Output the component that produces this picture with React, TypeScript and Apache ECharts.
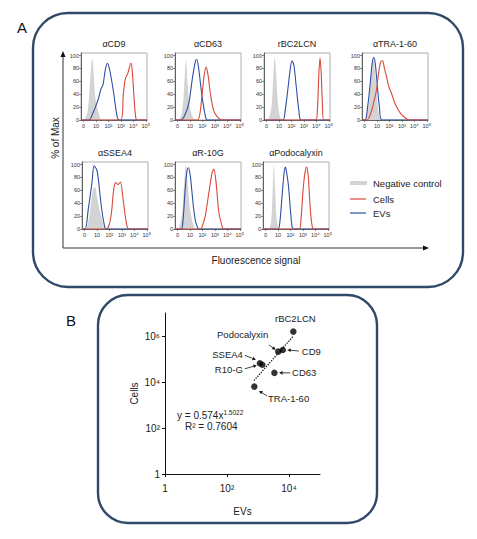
import React, { useEffect, useRef } from 'react';
import * as echarts from 'echarts';

// ---------- Panel A data (x in decades: 0 -> "0", 1 -> 10, 2 -> 10², ...) ----------
const markerTitles = ['αCD9', 'αCD63', 'rBC2LCN', 'αTRA-1-60', 'αSSEA4', 'αR-10G', 'αPodocalyxin'];
const decadeLabels = ['0', '10', '10²', '10³', '10⁴', '10⁵'];
const decadeTicks = [0, 1, 2, 3, 4, 5];
const pctTicks = [0, 20, 40, 60, 80, 100];
const legendLabels = ['Negative control', 'Cells', 'EVs'];

const cd9Neg = [[0.05, 0], [0.3, 10], [0.5, 50], [0.62, 85], [0.72, 95], [0.82, 70], [0.95, 35], [1.1, 20], [1.25, 8], [1.4, 0]];
const cd9EVs = [[-0.2, 0], [0.45, 0], [0.7, 8], [1.15, 30], [1.4, 48], [1.57, 55], [1.75, 78], [1.92, 88], [2.1, 78], [2.4, 45], [2.66, 10], [2.86, 0], [5.1, 0]];
const cd9Cells = [[-0.2, 0], [3.0, 0], [3.2, 40], [3.35, 63], [3.57, 73], [3.8, 88], [3.9, 80], [4.04, 40], [4.18, 6], [4.3, 0], [5.1, 0]];

const cd63Neg = [[0.1, 0], [0.35, 10], [0.55, 55], [0.68, 93], [0.8, 60], [0.95, 25], [1.15, 8], [1.35, 0]];
const cd63EVs = [[-0.2, 0], [0.3, 0], [0.6, 8], [0.9, 25], [1.2, 65], [1.45, 92], [1.55, 94], [1.7, 80], [1.95, 40], [2.2, 10], [2.4, 0], [5.1, 0]];
const cd63Cells = [[-0.2, 0], [1.6, 0], [1.8, 10], [2.0, 45], [2.15, 70], [2.3, 82], [2.45, 70], [2.65, 40], [2.9, 15], [3.2, 5], [3.6, 0], [5.1, 0]];

const rbcNeg = [[0.15, 0], [0.4, 20], [0.55, 70], [0.66, 97], [0.78, 70], [0.9, 30], [1.05, 8], [1.2, 0]];
const rbcEVs = [[-0.2, 0], [1.3, 0], [1.5, 15], [1.7, 45], [1.9, 78], [2.05, 92], [2.2, 85], [2.4, 50], [2.6, 15], [2.8, 0], [5.1, 0]];
const rbcCells = [[-0.2, 0], [3.95, 0], [4.1, 20], [4.2, 70], [4.3, 96], [4.4, 70], [4.5, 20], [4.6, 0], [5.1, 0]];

const traNeg = [[0.1, 0], [0.35, 25], [0.55, 80], [0.68, 95], [0.8, 85], [0.95, 50], [1.1, 15], [1.25, 0]];
const traEVs = [[-0.2, 0], [0.05, 0], [0.25, 20], [0.45, 55], [0.6, 85], [0.73, 97], [0.85, 90], [1.0, 60], [1.2, 20], [1.4, 0], [5.1, 0]];
const traCells = [[-0.2, 0], [0.2, 0], [0.5, 10], [0.75, 28], [0.95, 45], [1.15, 75], [1.3, 90], [1.45, 92], [1.6, 80], [1.76, 68], [1.95, 52], [2.16, 42], [2.4, 28], [2.7, 16], [3.0, 8], [3.3, 3], [3.6, 0], [5.1, 0]];

const sseaNeg = [[0.15, 0], [0.35, 15], [0.55, 45], [0.7, 62], [0.85, 65], [1.0, 50], [1.2, 30], [1.4, 15], [1.6, 0]];
const sseaEVs = [[-0.2, 0], [0.05, 0], [0.3, 30], [0.6, 72], [0.77, 98], [0.98, 92], [1.1, 79], [1.38, 31], [1.64, 2], [1.75, 0], [5.1, 0]];
const sseaCells = [[-0.2, 0], [1.77, 0], [2.0, 8], [2.17, 26], [2.35, 62], [2.5, 72], [2.7, 69], [2.88, 73], [3.1, 46], [3.36, 10], [3.57, 0], [5.1, 0]];

const r10gNeg = [[0.1, 0], [0.35, 20], [0.55, 75], [0.68, 100], [0.8, 75], [0.95, 40], [1.15, 15], [1.4, 0]];
const r10gEVs = [[-0.2, 0], [0.3, 0], [0.45, 15], [0.62, 62], [0.78, 92], [0.88, 95], [1.03, 82], [1.15, 60], [1.3, 31], [1.45, 12], [1.6, 3], [1.7, 0], [5.1, 0]];
const r10gCells = [[-0.2, 0], [1.84, 0], [2.05, 8], [2.24, 21], [2.5, 54], [2.78, 87], [2.92, 93], [3.1, 72], [3.32, 26], [3.6, 3], [3.73, 0], [5.1, 0]];

const podoNeg = [[0.3, 0], [0.45, 10], [0.58, 60], [0.68, 100], [0.78, 60], [0.9, 15], [1.05, 0]];
const podoEVs = [[-0.2, 0], [1.0, 0], [1.15, 10], [1.33, 51], [1.5, 88], [1.6, 96], [1.72, 85], [1.85, 66], [2.0, 30], [2.1, 9], [2.25, 0], [5.1, 0]];
const podoCells = [[-0.2, 0], [2.7, 0], [2.85, 15], [3.0, 56], [3.15, 85], [3.3, 96], [3.42, 85], [3.5, 61], [3.62, 25], [3.72, 8], [3.85, 0], [5.1, 0]];

const negSets = [cd9Neg, cd63Neg, rbcNeg, traNeg, sseaNeg, r10gNeg, podoNeg];
const evSets = [cd9EVs, cd63EVs, rbcEVs, traEVs, sseaEVs, r10gEVs, podoEVs];
const cellSets = [cd9Cells, cd63Cells, rbcCells, traCells, sseaCells, r10gCells, podoCells];

// ---------- Panel B data ----------
const pointNames = ['rBC2LCN', 'CD9', 'Podocalyxin', 'CD63', 'SSEA4', 'R10-G', 'TRA-1-60'];
const evValues = [13800, 6300, 4500, 3380, 1150, 1380, 760];
const cellValues = [1550000, 246000, 209000, 25000, 65000, 56000, 6300];
const fitEvEnds = [740, 13200];
const fitCellEnds = [11500, 930000];
const logTickExps = [0, 2, 4, 6];
const fitEquation = 'y = 0.574x';
const fitExponent = '1.5022';
const fitR2 = 'R² = 0.7604';

// ---------- layout ----------
const FONT = '"Liberation Sans", Arial, Helvetica, sans-serif';
const BORDER = '#2f4a68';
const BLUE = '#2f4fa3';
const RED = '#d9483b';
const GREY = '#d3d3d3';
const HIST_W = 66;
const HIST_H = 67;
const histPos = [[81, 53], [175, 53], [264, 53], [362, 53], [82, 162], [175, 162], [263, 162]];
const SC = { left: 165, top: 313, width: 155, height: 161 };

// label placement relative to each scatter point: [textDx, textDy, align, arrow [sx, sy, ex, ey] or null]
const annotLayout: any[] = [
  [2, -13, 'center', null],
  [19, 1, 'left', [16, 1, 4.5, 0]],
  [-10, -17, 'right', [-9.3, -6.7, -2.5, -1.8]],
  [17.7, 0, 'left', [15.7, 0, 4.7, 0]],
  [-17, -9, 'right', [-15, -8, -4, -3.5]],
  [-19.5, 5, 'right', [-17.5, 4, -5.5, 0.5]],
  [13.7, 12.3, 'left', [12.7, 9.3, 4.7, 4.3]],
];

const supDigits: Record<string, string> = { '0': '⁰', '1': '¹', '2': '²', '3': '³', '4': '⁴', '5': '⁵', '6': '⁶', '7': '⁷', '8': '⁸', '9': '⁹' };
const powLabel = (e: number) => (e === 0 ? '1' : '10' + String(e).split('').map((c) => supDigits[c]).join(''));

function arrow(x1: number, y1: number, x2: number, y2: number, hl = 4, hw = 2, lw = 0.8, color = '#111') {
  const dx = x2 - x1, dy = y2 - y1;
  const L = Math.hypot(dx, dy) || 1;
  const ux = dx / L, uy = dy / L;
  const bx = x2 - ux * hl, by = y2 - uy * hl;
  return [
    { type: 'line', shape: { x1, y1, x2: bx, y2: by }, style: { stroke: color, lineWidth: lw } },
    { type: 'polygon', shape: { points: [[x2, y2], [bx - uy * hw, by + ux * hw], [bx + uy * hw, by - ux * hw]] }, style: { fill: color } },
  ];
}

export default function App() {
  const ref = useRef<HTMLDivElement>(null);
  useEffect(() => {
    if (!ref.current) return;
    const chart = echarts.init(ref.current, null, { renderer: 'svg' });

    const grids: any[] = [];
    const xAxes: any[] = [];
    const yAxes: any[] = [];
    const series: any[] = [];

    histPos.forEach(([l, t], i) => {
      grids.push({ left: l, top: t, width: HIST_W, height: HIST_H, show: true, borderColor: '#9a9a9a', borderWidth: 0.8, backgroundColor: '#fff' });
      xAxes.push({
        gridIndex: i, type: 'value', min: -0.2, max: 5.1,
        axisLine: { show: true, onZero: false, lineStyle: { color: '#444', width: 0.8 } },
        axisTick: { show: true, customValues: decadeTicks, length: 2, lineStyle: { color: '#444', width: 0.6 } },
        axisLabel: { customValues: decadeTicks, formatter: (v: number) => decadeLabels[Math.round(v)], fontSize: 5.5, margin: 3, color: '#333', fontFamily: FONT },
        splitLine: { show: false },
      });
      yAxes.push({
        gridIndex: i, type: 'value', min: 0, max: 104,
        axisLine: { show: true, onZero: false, lineStyle: { color: '#444', width: 0.8 } },
        axisTick: { show: true, customValues: pctTicks, length: 2, lineStyle: { color: '#444', width: 0.6 } },
        axisLabel: { customValues: pctTicks, fontSize: 5.5, margin: 2, color: '#333', fontFamily: FONT },
        splitLine: { show: false },
      });
      series.push({
        type: 'line', xAxisIndex: i, yAxisIndex: i, data: negSets[i], smooth: 0.35, symbol: 'none',
        lineStyle: { width: 0, color: GREY }, areaStyle: { color: GREY, opacity: 1 }, z: 1,
      });
      series.push({
        type: 'line', xAxisIndex: i, yAxisIndex: i, data: evSets[i], smooth: 0.3, symbol: 'none',
        lineStyle: { width: 1.1, color: BLUE }, z: 2,
      });
      series.push({
        type: 'line', xAxisIndex: i, yAxisIndex: i, data: cellSets[i], smooth: 0.3, symbol: 'none',
        lineStyle: { width: 1.1, color: RED }, z: 3,
      });
    });

    const sIdx = histPos.length;
    grids.push({ left: SC.left, top: SC.top, width: SC.width, height: SC.height, show: false });
    xAxes.push({
      gridIndex: sIdx, type: 'value', min: 0, max: 5,
      name: 'EVs', nameLocation: 'middle', nameGap: 32, nameTextStyle: { fontSize: 10, color: '#222', fontFamily: FONT },
      axisLine: { show: true, onZero: false, lineStyle: { color: '#111', width: 1 } },
      axisTick: { show: true, customValues: logTickExps, length: 3, lineStyle: { color: '#111' } },
      axisLabel: { customValues: logTickExps, formatter: (v: number) => powLabel(Math.round(v)), fontSize: 10, margin: 9, color: '#222', fontFamily: FONT },
      splitLine: { show: false },
    });
    yAxes.push({
      gridIndex: sIdx, type: 'value', min: 0, max: 7,
      name: 'Cells', nameLocation: 'middle', nameGap: 26, nameRotate: 90, nameTextStyle: { fontSize: 10, color: '#222', fontFamily: FONT },
      axisLine: { show: true, onZero: false, lineStyle: { color: '#111', width: 1 } },
      axisTick: { show: true, customValues: logTickExps, length: 3, lineStyle: { color: '#111' } },
      axisLabel: { customValues: logTickExps, formatter: (v: number) => powLabel(Math.round(v)), fontSize: 10, margin: 5, color: '#222', fontFamily: FONT },
      splitLine: { show: false },
    });
    const scatterData = evValues.map((v, i) => [Math.log10(v), Math.log10(cellValues[i])]);
    series.push({
      type: 'line', xAxisIndex: sIdx, yAxisIndex: sIdx, symbol: 'none',
      data: fitEvEnds.map((v, i) => [Math.log10(v), Math.log10(fitCellEnds[i])]),
      lineStyle: { type: 'dotted', color: '#111', width: 1.3 }, z: 2,
    });
    series.push({
      type: 'scatter', xAxisIndex: sIdx, yAxisIndex: sIdx, data: scatterData,
      symbolSize: 6.5, itemStyle: { color: '#000' }, z: 3,
    });

    chart.setOption({
      animation: false,
      backgroundColor: '#fff',
      grid: grids,
      xAxis: xAxes,
      yAxis: yAxes,
      series,
    });

    const g: any[] = [];
    // Panel frames and labels
    g.push({ type: 'rect', shape: { x: 33, y: 13, width: 430, height: 274, r: 35 }, style: { fill: 'none', stroke: BORDER, lineWidth: 2.4 }, z: 0 });
    g.push({ type: 'rect', shape: { x: 98, y: 295, width: 279, height: 228, r: 30 }, style: { fill: 'none', stroke: BORDER, lineWidth: 2.4 }, z: 0 });
    g.push({ type: 'text', x: 22, y: 27, style: { text: 'A', fontSize: 15, fontFamily: FONT, fill: '#111', align: 'center', verticalAlign: 'middle' } });
    g.push({ type: 'text', x: 71, y: 320, style: { text: 'B', fontSize: 15, fontFamily: FONT, fill: '#111', align: 'center', verticalAlign: 'middle' } });

    // Histogram titles
    histPos.forEach(([l, t], i) => {
      g.push({ type: 'text', x: l + HIST_W / 2, y: t - 9, style: { text: markerTitles[i], fontSize: 9, fontFamily: FONT, fill: '#222', align: 'center', verticalAlign: 'middle' } });
    });

    // Big axes for panel A
    g.push({ type: 'line', shape: { x1: 63, y1: 248, x2: 63, y2: 57 }, style: { stroke: '#333', lineWidth: 1 } });
    g.push(...arrow(63, 58, 63, 51, 6, 2.5, 0, '#111'));
    g.push({ type: 'line', shape: { x1: 63, y1: 248, x2: 423, y2: 248 }, style: { stroke: '#333', lineWidth: 1 } });
    g.push(...arrow(422, 248, 429, 248, 6, 2.5, 0, '#111'));
    g.push({ type: 'text', x: 55, y: 138, rotation: Math.PI / 2, style: { text: '% of Max', fontSize: 10, fontFamily: FONT, fill: '#222', align: 'center', verticalAlign: 'middle' } });
    g.push({ type: 'text', x: 256, y: 260, style: { text: 'Fluorescence signal', fontSize: 10, fontFamily: FONT, fill: '#222', align: 'center', verticalAlign: 'middle' } });

    // Legend
    g.push({ type: 'rect', shape: { x: 350, y: 181, width: 17, height: 4 }, style: { fill: GREY } });
    g.push({ type: 'line', shape: { x1: 350, y1: 199, x2: 366, y2: 199 }, style: { stroke: RED, lineWidth: 1.2 } });
    g.push({ type: 'line', shape: { x1: 350, y1: 213, x2: 366, y2: 213 }, style: { stroke: BLUE, lineWidth: 1.2 } });
    [183, 199, 213].forEach((y, i) => {
      g.push({ type: 'text', x: 373, y, style: { text: legendLabels[i], fontSize: 9.5, fontFamily: FONT, fill: '#222', align: 'left', verticalAlign: 'middle' } });
    });

    // Scatter annotations
    scatterData.forEach((d, i) => {
      const p = chart.convertToPixel({ gridIndex: sIdx }, d) as number[];
      const [tdx, tdy, align, ar] = annotLayout[i];
      g.push({ type: 'text', x: p[0] + tdx, y: p[1] + tdy, style: { text: pointNames[i], fontSize: 9.5, fontFamily: FONT, fill: '#222', align, verticalAlign: 'middle' } });
      if (ar) g.push(...arrow(p[0] + ar[0], p[1] + ar[1], p[0] + ar[2], p[1] + ar[3], 3.5, 1.8, 0.8));
    });

    // Equation
    g.push({
      type: 'text', x: 177, y: 415,
      style: {
        text: `{a|${fitEquation}}{s|${fitExponent}}`, fontFamily: FONT, fill: '#222', align: 'left', verticalAlign: 'middle',
        rich: {
          a: { fontSize: 10, fontFamily: FONT, fill: '#222', lineHeight: 12 },
          s: { fontSize: 6.5, fontFamily: FONT, fill: '#222', verticalAlign: 'top', lineHeight: 12 },
        },
      },
    });
    g.push({ type: 'text', x: 185, y: 426, style: { text: fitR2, fontSize: 10, fontFamily: FONT, fill: '#222', align: 'left', verticalAlign: 'middle' } });

    chart.setOption({ graphic: g });

    return () => chart.dispose();
  }, []);

  return <div ref={ref} style={{ position: 'fixed', left: 0, top: 0, width: 477, height: 539, background: '#fff' }} />;
}
